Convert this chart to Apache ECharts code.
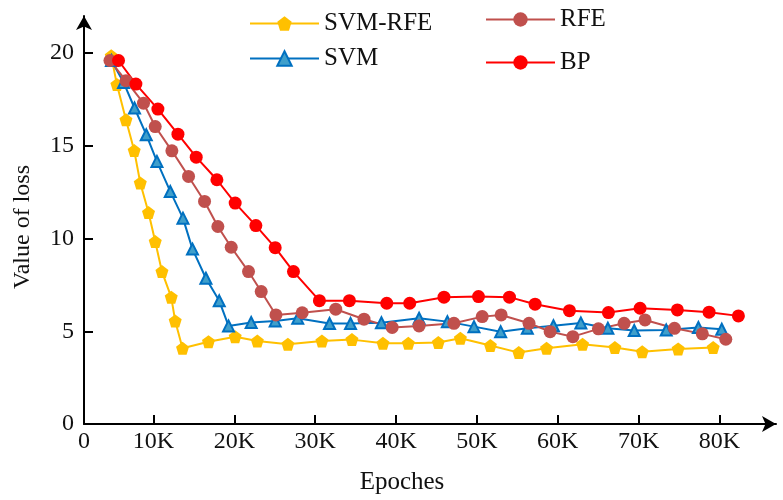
<!DOCTYPE html>
<html>
<head>
<meta charset="utf-8">
<script src="https://cdn.jsdelivr.net/npm/echarts@6/dist/echarts.min.js"></script>
<style>
  html, body { margin: 0; padding: 0; background: #fff; }
  #chart { width: 783px; height: 500px; }
</style>
</head>
<body>
<div id="chart"></div>
<script>
// [epoch, loss] pairs
var svmRfe = [[4770, 19.85], [5470, 18.3], [6590, 16.4], [7610, 14.75], [8360, 13.0], [9380, 11.4],
    [10210, 9.84], [11040, 8.22], [12190, 6.84], [12680, 5.56], [13590, 4.08], [16800, 4.44],
    [20100, 4.71], [22840, 4.48], [26620, 4.3], [30830, 4.48], [34540, 4.55], [38380, 4.35],
    [41520, 4.35], [45230, 4.39], [47960, 4.62], [51670, 4.23], [55180, 3.85], [58620, 4.08],
    [63070, 4.3], [67070, 4.12], [70450, 3.9], [74900, 4.05], [79230, 4.12]];
var svm = [[4800, 19.6], [6290, 18.42], [7650, 17.04], [9100, 15.6], [10420, 14.16], [12070, 12.54],
    [13640, 11.1], [14820, 9.43], [16480, 7.86], [18130, 6.64], [19280, 5.29], [22080, 5.47],
    [25050, 5.56], [27840, 5.7], [31770, 5.42], [34370, 5.42], [38190, 5.46], [42850, 5.7],
    [46350, 5.52], [49640, 5.25], [52940, 4.98], [56240, 5.16], [59470, 5.3], [62860, 5.45],
    [66200, 5.16], [69460, 5.04], [73420, 5.07], [77400, 5.2], [80290, 5.11]];
var rfe = [[4610, 19.6], [6590, 18.51], [8760, 17.3], [10210, 16.04], [12270, 14.73], [14330, 13.35],
    [16310, 12.0], [17960, 10.65], [19610, 9.53], [21750, 8.22], [23320, 7.14], [25140, 5.88],
    [28390, 6.0], [32540, 6.19], [36040, 5.65], [39520, 5.21], [42850, 5.29], [47160, 5.43],
    [50660, 5.79], [53000, 5.88], [56450, 5.43], [59060, 4.98], [61870, 4.71], [65030, 5.13],
    [68210, 5.43], [70800, 5.61], [74440, 5.16], [77890, 4.86], [80790, 4.57]];
var bp = [[5670, 19.6], [7820, 18.33], [10540, 16.98], [13020, 15.63], [15280, 14.39], [17840, 13.17],
    [20100, 11.91], [22660, 10.7], [25050, 9.51], [27310, 8.22], [30520, 6.65], [34230, 6.65],
    [38850, 6.51], [41690, 6.51], [45930, 6.84], [50200, 6.87], [54030, 6.84], [57200, 6.46],
    [61450, 6.11], [66270, 6.01], [70190, 6.24], [74800, 6.15], [78720, 6.03], [82350, 5.83]];

var xMin = 1400;
var xTicks = [10000, 20000, 30000, 40000, 50000, 60000, 70000, 80000];
var yTicks = [0, 5, 10, 15, 20];

var font = 'Liberation Serif, Times New Roman, serif';
var pentagon = 'path://M0,-1 L0.951,-0.309 L0.588,0.809 L-0.588,0.809 L-0.951,-0.309 Z';

var chart = echarts.init(document.getElementById('chart'));

var option = {
    backgroundColor: '#fff',
    animation: false,
    grid: { left: 84, right: 7, top: 16, bottom: 76, containLabel: false },
    legend: [
        {
            data: ['SVM-RFE', 'SVM'],
            orient: 'vertical', left: 244, top: 6,
            itemWidth: 69, itemHeight: 18, itemGap: 10,
            textStyle: { fontFamily: font, fontSize: 25, color: '#111', padding: [0, 0, 0, 0] }
        },
        {
            data: ['RFE', 'BP'],
            orient: 'vertical', left: 480, top: 2,
            itemWidth: 69, itemHeight: 18, itemGap: 18,
            textStyle: { fontFamily: font, fontSize: 25, color: '#111', padding: [0, 0, 0, 0] }
        }
    ],
    xAxis: {
        type: 'value',
        min: xMin, max: 87000,
        name: 'Epoches', nameLocation: 'middle', nameGap: 46,
        nameTextStyle: { fontFamily: font, fontSize: 25, color: '#111', padding: [0, 56, 0, 0] },
        axisLine: { lineStyle: { color: '#000', width: 2 }, symbol: ['none', 'arrow'], symbolSize: [12, 14] },
        axisTick: { inside: true, length: 9, lineStyle: { color: '#000', width: 2 }, customValues: xTicks },
        axisLabel: {
            customValues: [xMin].concat(xTicks),
            fontFamily: font, fontSize: 24, color: '#111', margin: 6,
            formatter: function (v) { return v === xMin ? '0' : (v / 1000) + 'K'; }
        },
        splitLine: { show: false }
    },
    yAxis: {
        type: 'value',
        min: 0, max: 22,
        name: 'Value of loss', nameLocation: 'middle', nameGap: 49,
        nameTextStyle: { fontFamily: font, fontSize: 24, color: '#111', padding: [0, 14, 0, 0] },
        axisLine: { show: true, lineStyle: { color: '#000', width: 2 }, symbol: ['none', 'arrow'], symbolSize: [12, 14] },
        axisTick: { show: true, inside: true, length: 9, lineStyle: { color: '#000', width: 2 }, customValues: yTicks },
        axisLabel: { customValues: yTicks, fontFamily: font, fontSize: 24, color: '#111', margin: 10 },
        splitLine: { show: false }
    },
    series: [
        {
            name: 'SVM-RFE', type: 'line', data: svmRfe,
            symbol: pentagon, symbolSize: 13,
            lineStyle: { color: '#FFC000', width: 2 },
            itemStyle: { color: '#FFC000' }
        },
        {
            name: 'SVM', type: 'line', data: svm,
            symbol: 'triangle', symbolSize: 11,
            lineStyle: { color: '#0070C0', width: 2 },
            itemStyle: { color: '#3F9FCB', borderColor: '#0070C0', borderWidth: 2 }
        },
        {
            name: 'RFE', type: 'line', data: rfe,
            symbol: 'circle', symbolSize: 13,
            lineStyle: { color: '#C0504D', width: 2 },
            itemStyle: { color: '#C0504D' }
        },
        {
            name: 'BP', type: 'line', data: bp,
            symbol: 'circle', symbolSize: 13,
            lineStyle: { color: '#FF0000', width: 2 },
            itemStyle: { color: '#FF0000' }
        }
    ]
};

chart.setOption(option);
</script>
</body>
</html>
